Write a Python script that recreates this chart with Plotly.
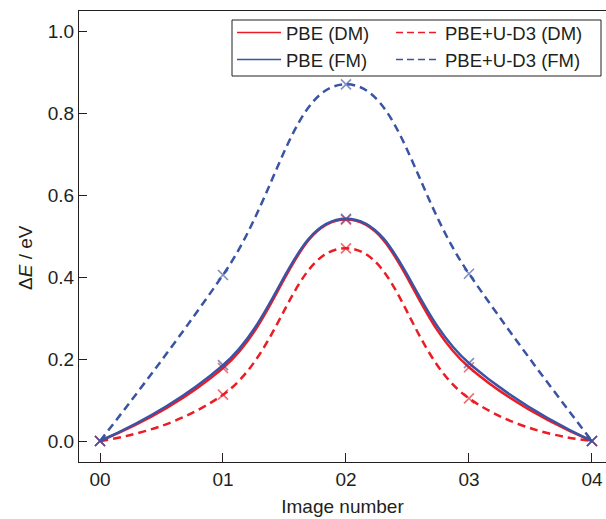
import plotly.graph_objects as go

images = [0, 1, 2, 3, 4]
image_labels = ["00", "01", "02", "03", "04"]

pbe_dm = [0.0, 0.178, 0.540, 0.180, 0.0]
pbe_fm = [0.0, 0.185, 0.542, 0.190, 0.0]
pbeu_dm = [0.0, 0.113, 0.470, 0.104, 0.0]
pbeu_fm = [0.0, 0.405, 0.870, 0.408, 0.0]

RED = "#ec1c24"
BLUE = "#3a53a4"
RED_M = "rgba(236,28,36,0.65)"
BLUE_M = "rgba(58,83,164,0.65)"
TXT = "#231f20"
FONT = "Liberation Sans, Arial, Helvetica, sans-serif"

# plot area in pixels
L, R, T, B = 79, 606, 11, 462
PW, PH = R - L, B - T

def px_x(p):
    return (p - L) / PW

def px_y(p):
    return (B - p) / PH

fig = go.Figure()

series = [
    ("PBE (DM)", pbe_dm, RED, RED_M, "solid", "legend"),
    ("PBE+U-D3 (DM)", pbeu_dm, RED, RED_M, "8px,5px", "legend2"),
    ("PBE (FM)", pbe_fm, BLUE, BLUE_M, "solid", "legend"),
    ("PBE+U-D3 (FM)", pbeu_fm, BLUE, BLUE_M, "8px,5px", "legend2"),
]

for name, y, color, mcolor, dash, lg in series:
    fig.add_trace(go.Scatter(
        x=images, y=y, name=name, mode="lines+markers", showlegend=False,
        line=dict(color=color, width=2.5, dash=dash, shape="spline", smoothing=1.3),
        marker=dict(symbol="x-thin", size=10, color=mcolor,
                    line=dict(color=mcolor, width=1.6)),
    ))

for name, y, color, mcolor, dash, lg in series:
    fig.add_trace(go.Scatter(
        x=[None], y=[None], name=name, mode="lines", showlegend=True, legend=lg,
        line=dict(color=color, width=1.5, dash="7px,4px" if dash != "solid" else "solid"),
    ))

legend_common = dict(
    orientation="v", yanchor="top", xanchor="left", itemwidth=44,
    bgcolor="rgba(0,0,0,0)", borderwidth=0, tracegroupgap=0,
    font=dict(family=FONT, size=18.5, color=TXT),
)

fig.update_layout(
    width=606, height=519,
    margin=dict(l=L, r=606 - R, t=T, b=519 - B, autoexpand=False),
    paper_bgcolor="white", plot_bgcolor="white",
    font=dict(family=FONT, size=19, color=TXT),
    showlegend=True,
    legend=dict(x=px_x(232), y=px_y(14), **legend_common),
    legend2=dict(x=px_x(391), y=px_y(14), **legend_common),
    shapes=[dict(
        type="rect", xref="paper", yref="paper", layer="above",
        x0=px_x(232), x1=px_x(601), y0=px_y(76), y1=px_y(20),
        line=dict(color=TXT, width=1), fillcolor="white",
    )],
    xaxis=dict(
        range=[-0.1707, 4.114], tickvals=images, ticktext=image_labels,
        ticks="inside", ticklen=9, tickwidth=1, tickcolor=TXT,
        showline=True, linecolor=TXT, linewidth=1.3, mirror=True,
        showgrid=False, zeroline=False,
        title=dict(text="Image number", standoff=10, font=dict(size=19)),
        tickfont=dict(size=19),
    ),
    yaxis=dict(
        range=[-0.0512, 1.0488], tickvals=[0, 0.2, 0.4, 0.6, 0.8, 1.0],
        tickformat=".1f",
        ticks="inside", ticklen=8, tickwidth=1, tickcolor=TXT,
        showline=True, linecolor=TXT, linewidth=1.3, mirror=False,
        showgrid=False, zeroline=False,
        tickfont=dict(size=19),
    ),
    annotations=[dict(
        text="Δ<i>E</i> / eV", textangle=-90, xref="paper", yref="paper",
        x=px_x(25), y=px_y(258), showarrow=False,
        xanchor="center", yanchor="middle", font=dict(size=19, color=TXT),
    )],
)

fig.write_html(
    "out.html",
    config={"displayModeBar": False},
    post_script="document.body.style.margin='0';document.body.style.overflow='hidden';",
)
